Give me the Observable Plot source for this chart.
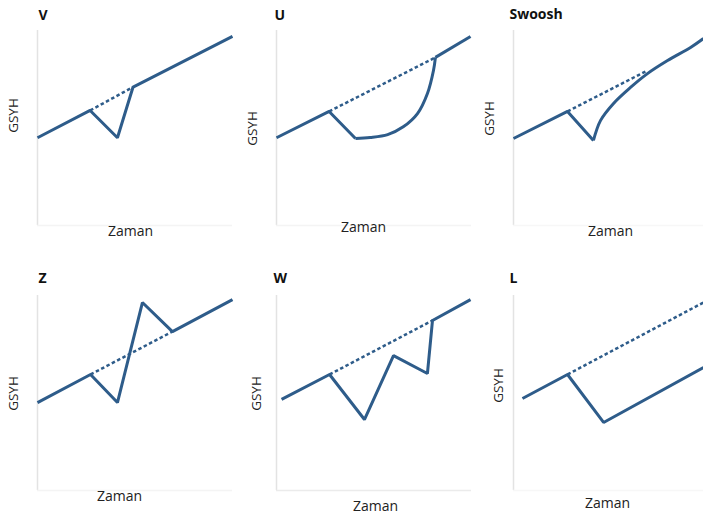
<!DOCTYPE html>
<html><head><meta charset="utf-8">
<script src="https://cdn.jsdelivr.net/npm/d3@7"></script>
<script src="https://cdn.jsdelivr.net/npm/@observablehq/plot@0.6"></script>
<style>
html,body{margin:0;padding:0;background:#fff;}
#chart{position:relative;width:703px;height:521px;overflow:hidden;background:#fff;}
#chart svg{position:absolute;background:transparent;max-width:none;}
</style></head><body><div id="chart"></div>
<script>
// ---- Data (time on x, GDP index on y, arbitrary units 0–100) ----
const titles = ["V", "U", "Swoosh", "Z", "W", "L"];
const yLabel = "GSYH";
const xLabel = "Zaman";

// V
const vTime = [0, 27, 41, 49, 100];
const vGdp  = [45, 59, 45, 71, 97];
const vTrendTime = [27, 49];
const vTrendGdp  = [59, 71];

// U
const uTime = [0, 27, 40.5];
const uGdp  = [45, 58.5, 44.6];
const uCurveTime = [40.5, 48, 57, 65, 72.3, 77.4, 80.5, 81.5];
const uCurveGdp  = [44.6, 45.1, 46.6, 50.6, 57.4, 67.7, 79.5, 86.2];
const uTailTime = [81.5, 99.5];
const uTailGdp  = [86.2, 96.9];
const uTrendTime = [27, 81.5];
const uTrendGdp  = [58.5, 86.2];

// Swoosh
const sTime = [0, 27.7, 41];
const sGdp  = [44.6, 58.5, 43.6];
const sCurveTime = [41, 44.6, 51.3, 60, 68.7, 79, 90.8, 97.4];
const sCurveGdp  = [43.6, 53.8, 62.6, 70.8, 77.9, 84.6, 91.3, 95.9];
const sTrendTime = [27.7, 68.7];
const sTrendGdp  = [58.5, 79.5];

// Z
const zTime = [0, 27.2, 41, 53.8, 69.2, 100];
const zGdp  = [45.1, 59.5, 45.1, 96.4, 81.5, 97.9];
const zTrendTime = [27.2, 69.2];
const zTrendGdp  = [59.5, 81.5];

// W
const wTime = [2.6, 27.2, 45.1, 60, 77.4, 80, 99.5];
const wGdp  = [46.7, 59.5, 36.4, 69.2, 60, 87.2, 97.9];
const wTrendTime = [27.2, 80];
const wTrendGdp  = [59.5, 87.2];

// L
const lTime = [4.6, 27.7, 46.2, 97.4];
const lGdp  = [47.2, 59.5, 34.9, 63.1];
const lTrendTime = [27.7, 97.4];
const lTrendGdp  = [59.5, 96.4];

const zip = (t, g) => t.map((d, i) => ({time: d, gdp: g[i]}));

const panels = [
  {title: titles[0], solid: [zip(vTime, vGdp)], curved: [], trend: zip(vTrendTime, vTrendGdp)},
  {title: titles[1], solid: [zip(uTime, uGdp), zip(uTailTime, uTailGdp)], curved: [zip(uCurveTime, uCurveGdp)], trend: zip(uTrendTime, uTrendGdp)},
  {title: titles[2], solid: [zip(sTime, sGdp)], curved: [zip(sCurveTime, sCurveGdp)], trend: zip(sTrendTime, sTrendGdp)},
  {title: titles[3], solid: [zip(zTime, zGdp)], curved: [], trend: zip(zTrendTime, zTrendGdp)},
  {title: titles[4], solid: [zip(wTime, wGdp)], curved: [], trend: zip(wTrendTime, wTrendGdp)},
  {title: titles[5], solid: [zip(lTime, lGdp)], curved: [], trend: zip(lTrendTime, lTrendGdp)}
];

// ---- Layout (per panel placement) ----
const layout = [
  {left: 0,   top: 0,   width: 237, height: 250, mt: 30, mb: 25, t: [1, -20],  g: [-24, -12.5], z: [-4.5, 10], bottom: "#f4f4f4"},
  {left: 239, top: 0,   width: 237, height: 250, mt: 30, mb: 25, t: [-2, -20], g: [-24, 0.5],   z: [-10.5, 6], bottom: "#f4f4f4"},
  {left: 476, top: 0,   width: 232, height: 250, mt: 30, mb: 25, t: [-4, -21], g: [-24, -9.5],  z: [-0.5, 10], bottom: "#f7f7f7"},
  {left: 0,   top: 260, width: 237, height: 261, mt: 35, mb: 31, t: [1, -22],  g: [-24, 0.5],   z: [-15.5, 10], bottom: "#f4f4f4"},
  {left: 239, top: 260, width: 237, height: 261, mt: 35, mb: 31, t: [-3, -22], g: [-20, 0.5],   z: [1.5, 20], bottom: "#ebebeb"},
  {left: 476, top: 260, width: 232, height: 261, mt: 35, mb: 31, t: [-4, -22], g: [-15, -7.5],  z: [-3.5, 17], bottom: "#f7f7f7"}
];

const blue = "#2e5c8a";
const font = "'Open Sans', 'Segoe UI', sans-serif";
const chart = document.getElementById("chart");

panels.forEach((p, i) => {
  const L = layout[i];
  const marks = [
    Plot.ruleX([0], {stroke: "#e3e3e3", strokeWidth: 1.5}),
    Plot.ruleY([0], {stroke: L.bottom, strokeWidth: 1.5}),
    Plot.line(p.trend, {x: "time", y: "gdp", stroke: blue, strokeWidth: 2.5, strokeDasharray: "3.5,2.5", strokeLinecap: "butt"}),
    ...p.solid.map(s => Plot.line(s, {x: "time", y: "gdp", stroke: blue, strokeWidth: 3, strokeLinejoin: "miter", strokeLinecap: "butt"})),
    ...p.curved.map(s => Plot.line(s, {x: "time", y: "gdp", stroke: blue, strokeWidth: 3, curve: "catmull-rom", strokeLinecap: "butt"})),
    Plot.text([p.title], {text: d => d, frameAnchor: "top-left", textAnchor: "start", dx: L.t[0], dy: L.t[1], fontSize: 14, fontWeight: "bold", fill: "#111"}),
    Plot.text([yLabel], {text: d => d, frameAnchor: "left", textAnchor: "middle", rotate: -90, dx: L.g[0], dy: L.g[1], fontSize: 13.5, fill: "#222"}),
    Plot.text([xLabel], {text: d => d, frameAnchor: "bottom", textAnchor: "middle", dx: L.z[0], dy: L.z[1], fontSize: 14, fill: "#222"})
  ];
  const svg = Plot.plot({
    width: L.width,
    height: L.height,
    marginLeft: 37,
    marginRight: L.width - 37 - 195,
    marginTop: L.mt,
    marginBottom: L.mb,
    x: {domain: [0, 100], axis: null},
    y: {domain: [0, 100], axis: null},
    style: {fontFamily: font, background: "transparent", overflow: "visible"},
    marks
  });
  svg.style.left = L.left + "px";
  svg.style.top = L.top + "px";
  chart.appendChild(svg);
});
</script>
</body></html>
